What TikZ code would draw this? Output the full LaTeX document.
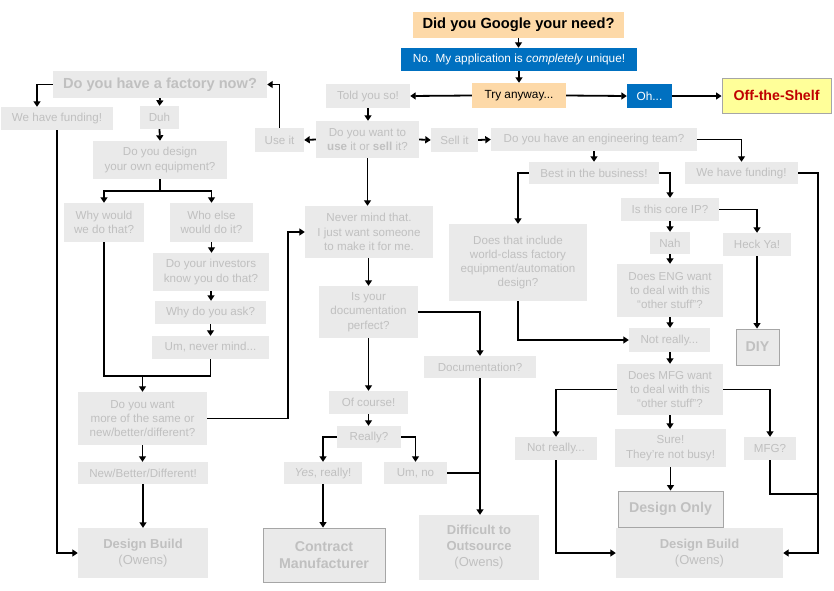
\documentclass[tikz,border=0pt]{standalone}
\usepackage{fontspec}
\setmainfont{Liberation Sans}
\usetikzlibrary{arrows.meta}
\definecolor{boxgray}{HTML}{EAEAEA}
\definecolor{txtgray}{HTML}{C0C0C0}
\definecolor{bordgray}{HTML}{A6A6A6}
\definecolor{peach}{HTML}{FDD9A8}
\definecolor{mblue}{HTML}{0070C0}
\definecolor{lyellow}{HTML}{FFFF99}
\definecolor{dred}{HTML}{C00000}
\begin{document}
\begin{tikzpicture}[x=1pt,y=-1pt,
  sz/.style 2 args={minimum width=#1pt,minimum height=#2pt},
  bx/.style={fill=boxgray,text=txtgray,inner sep=0pt,align=center,font=\fontsize{11.6}{14.3}\selectfont},
  bb/.style={bx,draw=bordgray,line width=0.9pt,font=\fontsize{14.2}{17}\selectfont\bfseries},
  bo/.style={bx,font=\fontsize{13}{16}\selectfont},
  arr/.style={line width=1.8pt,-{Triangle[length=5.5pt,width=7pt]}},
  ln/.style={line width=1.8pt},
]
\useasboundingbox (0,0) rectangle (834,590);

% top
\node[bx,fill=peach,text=black,sz={211}{26},font=\fontsize{14.7}{17}\selectfont\bfseries] (google) at (518.5,25) {Did you Google your need?};
\node[bx,fill=mblue,text=white,sz={236}{23},font=\fontsize{11.8}{14}\selectfont] (noapp) at (519,59.5) {No. My application is \textit{completely} unique!};
\node[bx,fill=peach,text=black,sz={94}{25},font=\fontsize{11.8}{14}\selectfont] (try) at (519,95.5) {Try anyway...};
\node[bx,sz={84}{24}] (told) at (368,96) {Told you so!};
\node[bx,fill=mblue,text=white,sz={45}{24},font=\fontsize{11.8}{14}\selectfont] (oh) at (649.5,96) {Oh...};
\node[bx,fill=lyellow,draw=bordgray,line width=0.9pt,text=dred,sz={109}{35},font=\fontsize{14.2}{17}\selectfont\bfseries] (shelf) at (776.5,95.5) {Off-the-Shelf};

% left column
\node[bx,sz={214}{27},font=\fontsize{14.6}{17}\selectfont\bfseries] (factory) at (160,84.5) {Do you have a factory now?};
\node[bx,sz={112}{23}] (fundL) at (57,118.5) {We have funding!};
\node[bx,sz={39}{23}] (duh) at (159.5,117.5) {Duh};
\node[bx,sz={134}{38}] (design) at (160,160) {Do you design\\your own equipment?};
\node[bx,sz={80}{39}] (why) at (104,222.5) {Why would\\we do that?};
\node[bx,sz={83}{39}] (who) at (211.5,222.5) {Who else\\would do it?};
\node[bx,sz={116}{38}] (investors) at (211,272) {Do your investors\\know you do that?};
\node[bx,sz={111}{23}] (whyask) at (210.5,312.5) {Why do you ask?};
\node[bx,sz={117}{23}] (um) at (210.5,347.5) {Um, never mind...};
\node[bx,sz={129}{53}] (more) at (142.5,418.5) {Do you want\\more of the same or\\new/better/different?};
\node[bx,sz={130}{22}] (nbd) at (143,473) {New/Better/Different!};
\node[bo,sz={130}{50}] (dbL) at (143,553) {\textbf{Design Build}\\(Owens)};

% middle
\node[bx,sz={49}{24}] (useit) at (279.5,140) {Use it};
\node[bx,sz={103}{37}] (useorsell) at (367.5,139.5) {Do you want to\\\textbf{use} it or \textbf{sell} it?};
\node[bx,sz={47}{24}] (sellit) at (454.5,140) {Sell it};
\node[bx,sz={128}{52}] (nevermind) at (369,232) {Never mind that.\\I just want someone\\to make it for me.};
\node[bx,sz={99}{52}] (docperf) at (368.5,312) {Is your\\documentation\\perfect?};
\node[bx,sz={112}{22}] (docq) at (480,367) {Documentation?};
\node[bo,sz={120}{65}] (difficult) at (479,547.5) {\textbf{Difficult to}\\\textbf{Outsource}\\(Owens)};
\node[bx,sz={79}{23}] (ofcourse) at (368.5,402.5) {Of course!};
\node[bx,sz={64}{22}] (really) at (369,437) {Really?};
\node[bx,sz={78}{22}] (yes) at (323,473) {\textit{Yes}, really!};
\node[bx,sz={63}{22}] (umno) at (415.5,473) {Um, no};
\node[bb,sz={122}{54}] (contract) at (324,555) {Contract\\Manufacturer};

% right
\node[bx,sz={206}{23}] (eng) at (594,139.5) {Do you have an engineering team?};
\node[bx,sz={113}{22}] (fundR) at (741.5,173) {We have funding!};
\node[bx,sz={130}{22}] (best) at (594,173) {Best in the business!};
\node[bx,sz={138}{77}] (include) at (518,262.5) {Does that include\\world-class factory\\equipment/automation\\design?};
\node[bx,sz={98}{23}] (core) at (670,209.5) {Is this core IP?};
\node[bx,sz={68}{23}] (heck) at (757,244.5) {Heck Ya!};
\node[bb,sz={43}{36}] (diy) at (757.5,347) {DIY};
\node[bx,sz={40}{22}] (nah) at (670,243) {Nah};
\node[bx,sz={106}{53}] (engwant) at (670,290.5) {Does ENG want\\to deal with this\\“other stuff”?};
\node[bx,sz={81}{24}] (notreallyM) at (669.5,340) {Not really...};
\node[bx,sz={106}{51}] (mfgwant) at (670,389.5) {Does MFG want\\to deal with this\\“other stuff”?};
\node[bx,sz={82}{23}] (notreallyL) at (556,448.5) {Not really...};
\node[bx,sz={52}{23}] (mfg) at (770,448.5) {MFG?};
\node[bx,sz={111}{38}] (sure) at (670.5,448) {Sure!\\They’re not busy!};
\node[bb,sz={105}{36}] (donly) at (670.5,509) {Design Only};
\node[bo,sz={167}{50}] (dbR) at (699.5,553) {\textbf{Design Build}\\(Owens)};

\coordinate (j1) at (142.5,376);
\coordinate (c1) at (288,232);
\coordinate (c2) at (818,553);
\coordinate (c3) at (818,494);

% connectors top
\draw[arr] (google.south) -- (google.south |- noapp.north);
\draw[arr] (noapp.south) -- (noapp.south |- try.north);
\draw[arr] (try.west) -- (told.east);
\draw[arr] (try.east) -- (oh.west);
\draw[arr] (oh.east) -- (shelf.west |- oh.east);
\draw[arr] (told.south) -- (told.south |- useorsell.north);
\draw[arr] (useorsell.west) -- (useit.east);
\draw[arr] (useorsell.east) -- (sellit.west);
\draw[arr] (sellit.east) -- (eng.west);
\draw[arr] (useit.north) |- (factory.east);

% left
\draw[arr] (factory.west) -| ([xshift=-20pt]fundL.north);
\draw[arr] (factory.south) -- (duh.north);
\draw[arr] (duh.south) -- (design.north);
\draw[arr] (design.south) -- ++(0,12) -| (why.north);
\draw[arr] (design.south) -- ++(0,12) -| (who.north);
\draw[arr] (who.south) -- (who.south |- investors.north);
\draw[arr] (investors.south) -- (investors.south |- whyask.north);
\draw[arr] (whyask.south) -- (whyask.south |- um.north);
\draw[ln] (why.south) |- (um.south |- j1) -- (um.south);
\draw[arr] (j1) -- (more.north);
\draw[arr] (more.east) -| (c1) -- (nevermind.west);
\draw[arr] (more.south) -- (more.south |- nbd.north);
\draw[arr] (nbd.south) -- (dbL.north);
\draw[arr] (fundL.south) |- (dbL.west);

% middle
\draw[arr] (useorsell.south) -- (useorsell.south |- nevermind.north);
\draw[arr] (nevermind.south -| docperf.south) -- (docperf.north);
\draw[arr] (docperf.east) -| (docq.north);
\draw[arr] (docperf.south) -- (ofcourse.north);
\draw[arr] (ofcourse.south) -- (ofcourse.south |- really.north);
\draw[arr] (really.west) -| (yes.north);
\draw[arr] (really.east) -| (umno.north);
\draw[arr] (yes.south) -- (yes.south |- contract.north);
\draw[arr] (docq.south) -- (docq.south |- difficult.north);
\draw[ln] (umno.east) -- (umno.east -| docq.south);

% right
\draw[arr] (eng.east) -| (fundR.north);
\draw[arr] (eng.south) -- (best.north);
\draw[arr] (best.west) -| (include.north);
\draw[arr] (best.east) -| (core.north);
\draw[arr] (core.east) -| (heck.north);
\draw[arr] (heck.south) -- (heck.south |- diy.north);
\draw[arr] (core.south) -- (nah.north);
\draw[arr] (nah.south) -- (engwant.north);
\draw[arr] (engwant.south) -- (engwant.south |- notreallyM.north);
\draw[arr] (notreallyM.south -| mfgwant.north) -- (mfgwant.north);
\draw[arr] (include.south) |- (notreallyM.west);
\draw[arr] (mfgwant.west) -| (notreallyL.north);
\draw[arr] (mfgwant.east) -| (mfg.north);
\draw[arr] (mfgwant.south) -- (mfgwant.south |- sure.north);
\draw[arr] (sure.south) -- (sure.south |- donly.north);
\draw[arr] (notreallyL.south) |- (dbR.west);
\draw[arr] (fundR.east) -| (c2) -- (dbR.east);
\draw[ln] (mfg.south) |- (c3);
\end{tikzpicture}
\end{document}
